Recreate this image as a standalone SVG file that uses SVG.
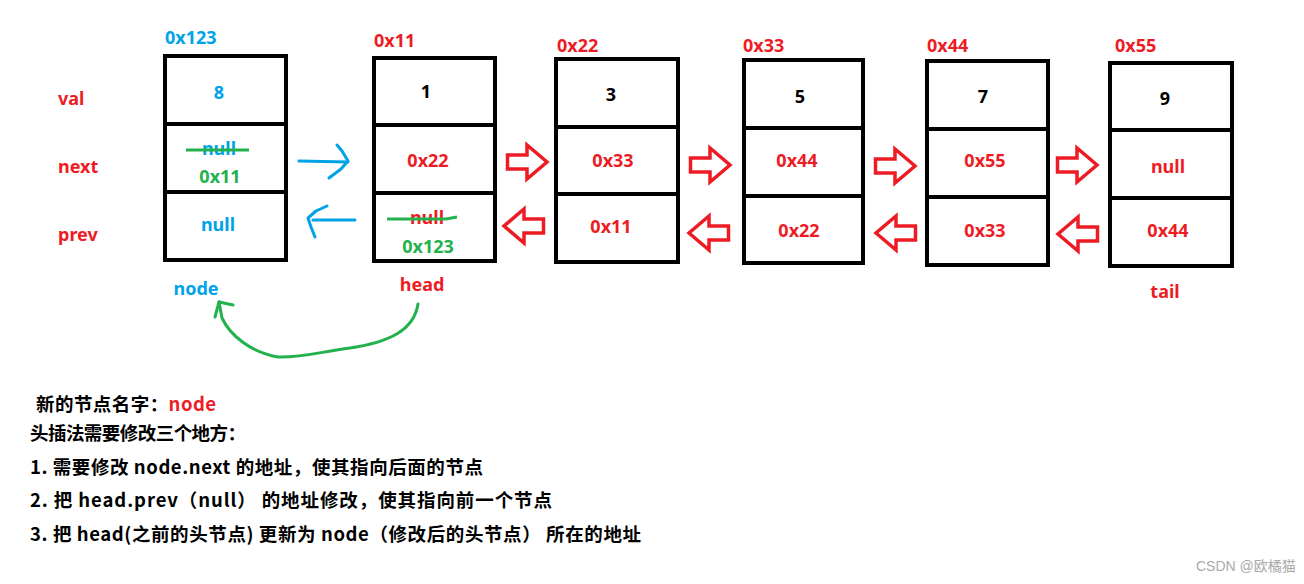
<svg xmlns="http://www.w3.org/2000/svg" width="1304" height="584" viewBox="0 0 1304 584">
<style>
.box{fill:#fff;stroke:#000;stroke-width:4}
.div{stroke:#000;stroke-width:4}
text{font-family:"Noto Sans","Noto Sans CJK SC",sans-serif;font-weight:bold;font-size:18px}
.c{text-anchor:middle}
.r{fill:#ed1c24}
.b{fill:#00a2e8}
.g{fill:#22b14c}
.k{fill:#000}
.strike{stroke:#22b14c;stroke-width:3;fill:none}
.blue{stroke:#00a2e8;stroke-width:3;fill:none;stroke-linecap:round;stroke-linejoin:round}
.green{stroke:#22b14c;stroke-width:3;fill:none;stroke-linecap:round;stroke-linejoin:round}
.hollow{fill:#fff;stroke:#ed1c24;stroke-width:3.5}
.cjk{font-family:"Noto Sans CJK SC","Noto Sans",sans-serif;font-size:18.5px}
.wm{font-family:"Liberation Sans","Noto Sans CJK SC",sans-serif;font-weight:normal;font-size:14px;fill:#aaa}
</style>
<defs>
<path id="ra" class="hollow" d="M1.5,-7 H21 V-17 L41,0 L21,17 V7 H1.5 Z"/>
</defs>
<rect width="1304" height="584" fill="#fff"/>

<g id="row-labels">
<text class="r" x="58" y="105">val</text>
<text class="r" x="58" y="173">next</text>
<text class="r" x="58" y="241">prev</text>
</g>

<g id="node-0x123">
<text class="b" x="165" y="44">0x123</text>
<rect class="box" x="165" y="56" width="121" height="204"/>
<line class="div" x1="165" y1="124" x2="286" y2="124"/>
<line class="div" x1="165" y1="192" x2="286" y2="192"/>
<text class="b c" x="219" y="99">8</text>
<text class="b c" x="219" y="155">null</text>
<line class="strike" x1="186" y1="150" x2="249" y2="150"/>
<text class="g c" x="220" y="183">0x11</text>
<text class="b c" x="218" y="231">null</text>
<text class="b c" x="196" y="295">node</text>
</g>

<g id="node-0x11">
<text class="r" x="374" y="47">0x11</text>
<rect class="box" x="374" y="58" width="121" height="203"/>
<line class="div" x1="374" y1="125" x2="495" y2="125"/>
<line class="div" x1="374" y1="193" x2="495" y2="193"/>
<text class="k c" x="426" y="98">1</text>
<text class="r c" x="428" y="167">0x22</text>
<text class="r c" x="427" y="224">null</text>
<path class="strike" d="M387,219 L446,219 L457,217"/>
<text class="g c" x="428" y="253">0x123</text>
<text class="r c" x="422" y="291">head</text>
</g>

<g id="node-0x22">
<text class="r" x="557" y="52">0x22</text>
<rect class="box" x="556" y="59" width="122" height="203"/>
<line class="div" x1="556" y1="127" x2="678" y2="127"/>
<line class="div" x1="556" y1="194" x2="678" y2="194"/>
<text class="k c" x="611" y="101">3</text>
<text class="r c" x="613" y="167">0x33</text>
<text class="r c" x="611" y="233">0x11</text>
</g>

<g id="node-0x33">
<text class="r" x="743" y="52">0x33</text>
<rect class="box" x="744" y="60" width="119" height="203"/>
<line class="div" x1="744" y1="128" x2="863" y2="128"/>
<line class="div" x1="744" y1="196" x2="863" y2="196"/>
<text class="k c" x="800" y="103">5</text>
<text class="r c" x="797" y="167">0x44</text>
<text class="r c" x="799" y="237">0x22</text>
</g>

<g id="node-0x44">
<text class="r" x="927" y="52">0x44</text>
<rect class="box" x="927" y="61" width="121" height="204"/>
<line class="div" x1="927" y1="129" x2="1048" y2="129"/>
<line class="div" x1="927" y1="197" x2="1048" y2="197"/>
<text class="k c" x="983" y="103">7</text>
<text class="r c" x="985" y="167">0x55</text>
<text class="r c" x="985" y="237">0x33</text>
</g>

<g id="node-0x55">
<text class="r" x="1115" y="52">0x55</text>
<rect class="box" x="1110" y="63" width="122" height="203"/>
<line class="div" x1="1110" y1="130" x2="1232" y2="130"/>
<line class="div" x1="1110" y1="198" x2="1232" y2="198"/>
<text class="k c" x="1165" y="105">9</text>
<text class="r c" x="1168" y="173">null</text>
<text class="r c" x="1168" y="237">0x44</text>
<text class="r c" x="1165" y="298">tail</text>
</g>

<g id="connectors">
<use href="#ra" transform="translate(506,162)"/>
<use href="#ra" transform="translate(689,165)"/>
<use href="#ra" transform="translate(874,166)"/>
<use href="#ra" transform="translate(1056,165)"/>
<use href="#ra" transform="translate(545,226) scale(-1,1)"/>
<use href="#ra" transform="translate(730,233) scale(-1,1)"/>
<use href="#ra" transform="translate(917,233) scale(-1,1)"/>
<use href="#ra" transform="translate(1099,234) scale(-1,1)"/>
<path class="blue" d="M299,161 L348,162"/>
<path class="blue" d="M337,145 L342,151 L348,161 L341,169 L329,178"/>
<path class="blue" d="M313,220 L355,220"/>
<path class="blue" d="M327,206 L316,211 L308,218 L311,227 L315,237"/>
<path class="green" d="M418,304 C414,330 390,342 350,348 C320,352 300,358 278,357 C250,352 230,335 222,318 L219,302"/>
<path class="green" d="M215,317 L219,302 L233,305"/>
</g>

<g id="notes">
<text x="36" y="411" class="cjk k" textLength="180" lengthAdjust="spacing">新的节点名字：<tspan class="r">node</tspan></text>
<text x="30" y="440" class="cjk k" textLength="216" lengthAdjust="spacing">头插法需要修改三个地方：</text>
<text x="30" y="474" class="cjk k" textLength="453" lengthAdjust="spacing">1. 需要修改 node.next 的地址，使其指向后面的节点</text>
<text x="30" y="507" class="cjk k" textLength="522" lengthAdjust="spacing">2. 把 head.prev（null） 的地址修改，使其指向前一个节点</text>
<text x="30" y="541" class="cjk k" textLength="611" lengthAdjust="spacing">3. 把 head(之前的头节点) 更新为 node（修改后的头节点） 所在的地址</text>
</g>

<text class="wm" x="1196" y="571">CSDN @欧橘猫</text>
</svg>
